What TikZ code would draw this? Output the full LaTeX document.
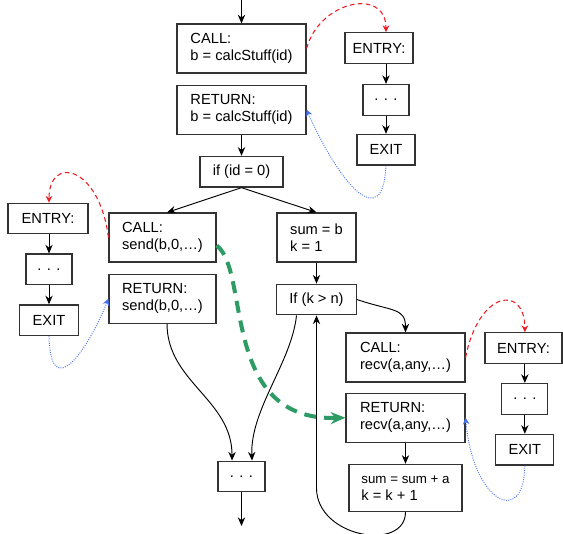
\documentclass[tikz,border=0pt]{standalone}
\usepackage{fontspec}
\setmainfont{Liberation Sans}
\usetikzlibrary{arrows.meta, positioning}

\definecolor{callred}{RGB}{235,30,35}
\definecolor{retblue}{RGB}{70,115,240}
\definecolor{msggreen}{RGB}{45,155,100}

\begin{document}
\begin{tikzpicture}[
    x=0.75pt, y=-0.75pt,
    box/.style={rectangle, draw=black!80, line width=0.9pt, inner sep=0pt, align=left, minimum height=36.75pt, font=\fontsize{11}{13}\selectfont},
    linebox/.style={box, minimum height=23pt},
    arrow/.style={-{Stealth[length=6.5pt, width=5.5pt]}, line width=0.7pt},
    callarrow/.style={-{Stealth[length=5pt, width=5pt]}, callred, line width=0.8pt, dash pattern=on 3.5pt off 2.5pt},
    retarrow/.style={-{Stealth[length=5pt, width=5pt]}, retblue, line width=0.7pt, dash pattern=on 0.7pt off 1pt},
    msgarrow/.style={-{Stealth[length=11pt, width=9pt]}, msggreen, line width=3pt, dash pattern=on 9pt off 6pt}
]
\useasboundingbox (0,0) rectangle (563,533);

% main routine
\coordinate (start) at (241.5,0);
\node[box, minimum width=96.75pt] (call1) at (241.5,48.5) {CALL:\\b = calcStuff(id)};
\node[box, minimum width=96.75pt, below=8.25pt of call1] (ret1) {RETURN:\\b = calcStuff(id)};
\node[linebox, minimum width=62.25pt, below=15.75pt of ret1] (cond1) {if (id = 0)};

\node[box, minimum width=80.25pt] (call2) at (162.5,237.5) {CALL:\\send(b,0,…)};
\node[box, minimum width=80.25pt, below=8.25pt of call2] (ret2) {RETURN:\\send(b,0,…)};

\node[box, minimum width=59.25pt] (sum1) at (316.5,237.5) {sum = b\\k = 1};
\node[linebox, minimum width=60pt, below=15.75pt of sum1] (cond2) {If (k > n)};

\node[box, minimum width=89.25pt] (call3) at (405.5,357.5) {CALL:\\recv(a,any,…)};
\node[box, minimum width=89.25pt, below=7.5pt of call3] (ret3) {RETURN:\\recv(a,any,…)};
\node[box, minimum width=84.75pt, minimum height=35.25pt, below=15.75pt of ret3] (sum2) {{\fontsize{10}{12}\selectfont sum = sum + a}\\k = k + 1};

\node[linebox, minimum width=35.25pt] (join) at (241.5,476.5) {. . .};
\coordinate (finish) at (241.5,526);

% callees
\node[linebox, minimum width=51pt] (entry1) at (379,48) {ENTRY:};
\node[linebox, minimum width=34.5pt, below=15pt of entry1, xshift=5.25pt] (dots1) {. . .};
\node[linebox, minimum width=43.5pt, below=13.5pt of dots1] (exit1) {EXIT};

\node[linebox, minimum width=60pt] (entry2) at (48,218.5) {ENTRY:};
\node[linebox, minimum width=34.5pt, below=14.25pt of entry2, xshift=0.75pt] (dots2) {. . .};
\node[linebox, minimum width=44.25pt, below=14.25pt of dots2] (exit2) {EXIT};

\node[linebox, minimum width=57.75pt] (entry3) at (523.5,348) {ENTRY:};
\node[linebox, minimum width=34.5pt, below=14.25pt of entry3, xshift=1pt] (dots3) {. . .};
\node[linebox, minimum width=43.5pt, below=14.25pt of dots3] (exit3) {EXIT};

% control flow
\draw[arrow] (start) -- (call1);
\draw[arrow] (ret1) -- (cond1);
\draw[arrow] (cond1.south) -- ([xshift=3.4pt]call2.north);
\draw[arrow] (cond1.south) -- (sum1.north);
\draw[arrow] (sum1) -- (cond2);
\draw[arrow] (cond2.east) .. controls +(35,12) and +(0,-25) .. (call3.north);
\draw[arrow] ([xshift=-15pt]cond2.south) .. controls +(-5,47) and +(-2,-51) .. ([xshift=7.9pt]join.north);
\draw[arrow] ([xshift=3.4pt]ret2.south) .. controls +(0,58) and +(0,-61) .. ([xshift=-7.1pt]join.north);
\draw[arrow] (ret3) -- (sum2);
\draw[arrow] (sum2.south) .. controls +(0,40) and +(0,50) .. (cond2.south |- sum2) -- (cond2.south);
\draw[arrow] (join) -- (finish);

\draw[arrow] (entry1.south -| dots1) -- (dots1);
\draw[arrow] (dots1) -- (exit1);
\draw[arrow] (entry2.south -| dots2) -- (dots2);
\draw[arrow] (dots2) -- (exit2);
\draw[arrow] (entry3.south -| dots3) -- (dots3);
\draw[arrow] (dots3) -- (exit3);

% calls and returns
\draw[callarrow] (call1.east) .. controls +(13,-48) and +(0,-45) .. (entry1.north -| dots1);
\draw[callarrow] (call2.west) .. controls +(-9,-72) and +(0,-48) .. (entry2.north -| dots2);
\draw[callarrow] (call3.east) .. controls +(13,-67) and +(0,-48) .. (entry3.north -| dots3);

\draw[retarrow] (exit1.south) .. controls +(-3,67) and +(34,76.5) .. (ret1.east);
\draw[retarrow] (exit2.south) .. controls +(1.5,67) and +(-21,52.5) .. (ret2.west);
\draw[retarrow] (exit3.south) .. controls +(-1,63) and +(7,83.5) .. (ret3.east);

% message
\draw[msgarrow] ([yshift=-6pt]call2.east) .. controls +(34,25) and +(-126,3.5) .. (ret3.west);

\end{tikzpicture}
\end{document}
